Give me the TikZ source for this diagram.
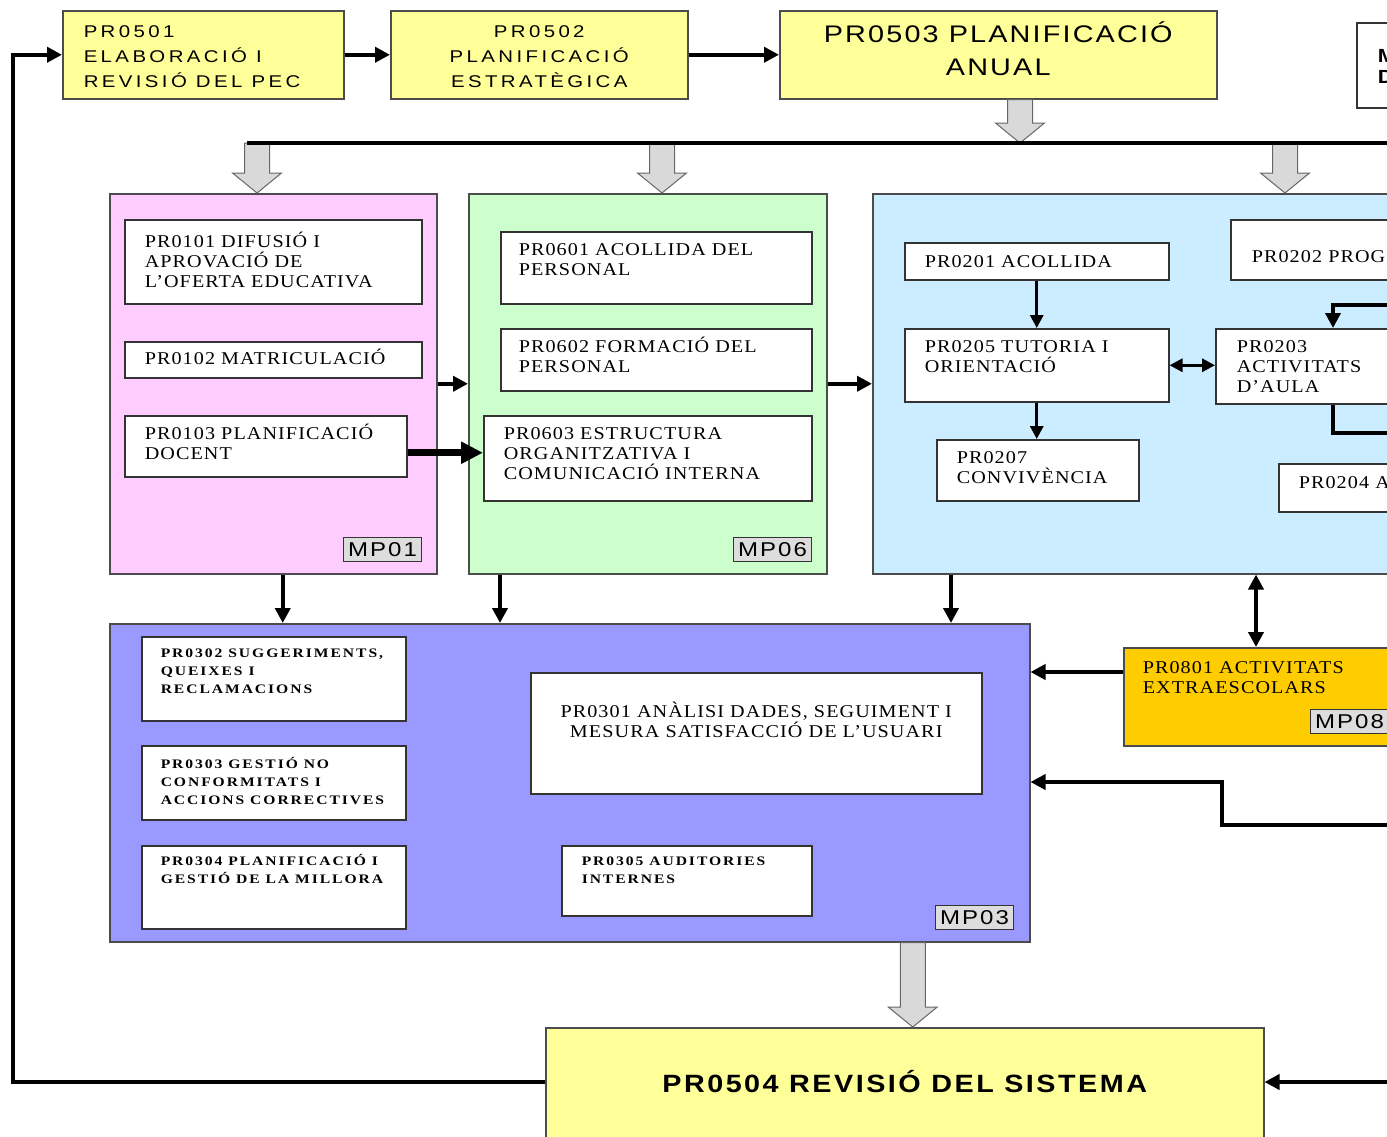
\documentclass[tikz,border=0pt]{standalone}
\usepackage{fontspec}
\setmainfont{Liberation Serif}
\newfontfamily\prfont{Liberation Serif}[FakeStretch=1.12,LetterSpace=6]
\newfontfamily\mpfont{Liberation Serif}[FakeStretch=1.2,LetterSpace=15]
\newfontfamily\topfont{Liberation Sans}[FakeStretch=1.2,LetterSpace=20]
\newfontfamily\anualfont{Liberation Sans}[FakeStretch=1.2,LetterSpace=9]
\newfontfamily\sysfont{Liberation Sans}[FakeStretch=1.15,LetterSpace=10]
\newfontfamily\labfont{Liberation Sans}[FakeStretch=1.2,LetterSpace=10]
\usepackage{tikz}
\usetikzlibrary{arrows.meta}
\usetikzlibrary{calc}
\definecolor{pryellow}{HTML}{FFFF99}
\definecolor{mppink}{HTML}{FFCCFF}
\definecolor{mpgreen}{HTML}{CCFFCC}
\definecolor{mpblue}{HTML}{CCECFF}
\definecolor{mppurple}{HTML}{9999FF}
\definecolor{mporange}{HTML}{FFCC00}
\definecolor{labgray}{HTML}{DDDDDD}
\definecolor{arrgray}{HTML}{D9D9D9}
%% box text: width, height, left indent, top gap, text
\newcommand{\boxtext}[5]{\parbox[c][#2pt][t]{#1pt}{\vspace*{#4pt}\leftskip=#3pt\relax\rule{0pt}{1em}#5\par}}
%% centred box text: width, height, top gap, text
\newcommand{\boxtextc}[4]{\parbox[c][#2pt][t]{#1pt}{\vspace*{#3pt}\centering\rule{0pt}{1em}#4\par}}
%% grey block arrow from (#1) straight down to the height of (#2)
\newcommand{\blockarrow}[2]{%
  \filldraw[blockarr] let \p1=(#1), \p2=(#2) in
    (\x1-12.5pt,\y1) -- (\x1+12.5pt,\y1) -- (\x1+12.5pt,\y2+20pt)
    -- (\x1+24.5pt,\y2+20pt) -- (\x1,\y2) -- (\x1-24.5pt,\y2+20pt)
    -- (\x1-12.5pt,\y2+20pt) -- cycle;}
\tikzset{
%%%%%%%%%% Node styles
area/.style={draw=black!70, line width=1.5pt, anchor=north west, inner sep=0pt},
topbox/.style={area, fill=pryellow, font=\topfont\fontsize{17}{25}\selectfont},
prbox/.style={draw=black!80, fill=white, line width=1.5pt, anchor=north west,
              inner sep=0pt, font=\prfont\fontsize{18}{20}\selectfont},
subbox/.style={prbox, font=\mpfont\bfseries\fontsize{13}{18}\selectfont},
mplabel/.style={draw=black!80, fill=labgray, line width=1pt, anchor=north west,
                inner sep=0pt, minimum width=78pt, minimum height=24pt,
                font=\labfont\fontsize{20}{20}\selectfont},
%%%%%%%%%% Line styles
wire/.style={line width=4pt},
conn/.style={line width=4pt, -{Triangle[length=15pt,width=15pt]}},
biconn/.style={line width=4pt, {Triangle[length=15pt,width=15pt]}-{Triangle[length=15pt,width=15pt]}},
thinconn/.style={line width=3pt, -{Triangle[length=13pt,width=13pt]}},
thinbiconn/.style={line width=3pt, {Triangle[length=13pt,width=13pt]}-{Triangle[length=13pt,width=13pt]}},
bigconn/.style={line width=7pt, -{Triangle[length=22pt,width=21pt]}},
blockarr/.style={fill=arrgray, draw=black!60, line width=1pt}
}
\begin{document}
\begin{tikzpicture}[x=1pt, y=-1pt]
\useasboundingbox (0,0) rectangle (1387,1136);
\clip (0,0) rectangle (1387,1136);
%% top row
\node[topbox] (pr0501) at (62,10) {\boxtext{281}{88}{21}{10}{PR0501\\ELABORACIÓ I\\REVISIÓ DEL PEC}};
\node[topbox] (pr0502) at (390,10) {\boxtextc{297}{88}{10}{PR0502\\PLANIFICACIÓ\\ESTRATÈGICA}};
\node[topbox, font=\anualfont\fontsize{24}{33}\selectfont] (pr0503) at (779,10)
  {\boxtextc{437}{88}{8}{PR0503 PLANIFICACIÓ\\ANUAL}};
\node[prbox, font=\sysfont\bfseries\fontsize{19}{21}\selectfont] (mpd) at (1356,22)
  {\boxtext{120}{85}{21}{21}{M\\D}};
%%%%%%%%%%%%%%%%%%%%%%%%%%%%%%%%%%%%%%%%%%%%%%%%%%%%%%%
%% MP01
\node[area, fill=mppink, minimum width=327pt, minimum height=380pt] (mp01) at (109,193) {};
\node[prbox] (pr0101) at (124,219) {\boxtext{297}{84}{20}{10}{PR0101 DIFUSIÓ I\\APROVACIÓ DE\\L’OFERTA EDUCATIVA}};
\node[prbox] (pr0102) at (124,341) {\boxtext{297}{36}{20}{5}{PR0102 MATRICULACIÓ}};
\node[prbox] (pr0103) at (124,415) {\boxtext{282}{61}{20}{6}{PR0103 PLANIFICACIÓ\\DOCENT}};
\node[mplabel] (lab01) at (343,537) {MP01};
%% MP06
\node[area, fill=mpgreen, minimum width=358pt, minimum height=380pt] (mp06) at (468,193) {};
\node[prbox] (pr0601) at (500,231) {\boxtext{311}{72}{18}{6}{PR0601 ACOLLIDA DEL\\PERSONAL}};
\node[prbox] (pr0602) at (500,328) {\boxtext{311}{62}{18}{6}{PR0602 FORMACIÓ DEL\\PERSONAL}};
\node[prbox] (pr0603) at (483,415) {\boxtext{328}{85}{20}{6}{PR0603 ESTRUCTURA\\ORGANITZATIVA I\\COMUNICACIÓ INTERNA}};
\node[mplabel] (lab06) at (733,537) {MP06};
%% MP02
\node[area, fill=mpblue, minimum width=600pt, minimum height=380pt] (mp02) at (872,193) {};
\node[prbox] (pr0201) at (904,242) {\boxtext{264}{37}{20}{7}{PR0201 ACOLLIDA}};
\node[prbox] (pr0205) at (904,328) {\boxtext{264}{73}{20}{6}{PR0205 TUTORIA I\\ORIENTACIÓ}};
\node[prbox] (pr0207) at (936,439) {\boxtext{202}{61}{20}{6}{PR0207\\CONVIVÈNCIA}};
\node[prbox] (pr0202) at (1230,219) {\boxtext{300}{60}{21}{25}{PR0202 PROGRAMACIÓ}};
\node[prbox] (pr0203) at (1215,328) {\boxtext{300}{75}{21}{6}{PR0203\\ACTIVITATS\\D’AULA}};
\node[prbox] (pr0204) at (1278,463) {\boxtext{400}{48}{20}{7}{PR0204 AVALUACIÓ}};
%% MP08
\node[area, fill=mporange, font=\prfont\fontsize{18}{20}\selectfont] (mp08) at (1123,647)
  {\boxtext{400}{98}{19}{8}{PR0801 ACTIVITATS\\EXTRAESCOLARS}};
\node[mplabel] (lab08) at (1310,709) {MP08};
%% MP03
\node[area, fill=mppurple, minimum width=920pt, minimum height=318pt] (mp03) at (109,623) {};
\node[subbox] (pr0302) at (141,636) {\boxtext{264}{84}{19}{8}{PR0302 SUGGERIMENTS,\\QUEIXES I\\RECLAMACIONS}};
\node[subbox] (pr0303) at (141,745) {\boxtext{264}{74}{19}{10}{PR0303 GESTIÓ NO\\CONFORMITATS I\\ACCIONS CORRECTIVES}};
\node[subbox] (pr0304) at (141,845) {\boxtext{264}{83}{19}{7}{PR0304 PLANIFICACIÓ I\\GESTIÓ DE LA MILLORA}};
\node[prbox] (pr0301) at (530,672) {\boxtextc{451}{121}{27}{PR0301 ANÀLISI DADES, SEGUIMENT I\\MESURA SATISFACCIÓ DE L’USUARI}};
\node[subbox] (pr0305) at (561,845) {\boxtext{250}{70}{20}{7}{PR0305 AUDITORIES\\INTERNES}};
\node[mplabel] (lab03) at (935,905) {MP03};
%% PR0504
\node[area, fill=pryellow, font=\sysfont\bfseries\fontsize{25}{30}\selectfont] (pr0504) at (545,1027)
  {\boxtextc{718}{150}{40}{PR0504 REVISIÓ DEL SISTEMA}};
%%%%%%%%%%%%%%%%%%%%%%%%%%%%%%%%%%%%%%%%%%%%%%%%%%%%%%%
%% points on the lines
\coordinate (busL) at (247,143);
\coordinate (busR) at (1400,143);
\coordinate (bus0) at (1020,143);
\coordinate (bus1) at (257,143);
\coordinate (bus2) at (662,143);
\coordinate (bus3) at (1285,143);
\coordinate (revtop) at ([xshift=8pt]pr0504.north);
\coordinate (fb) at (13,1082);
\coordinate (ret2) at (1400,1082);
\coordinate (retr) at (1400,825);
\coordinate (retm) at (1222,782);
\coordinate (loopa) at (1400,305);
\coordinate (loopb) at (1400,433);
\coordinate (t0203) at ([xshift=118pt]pr0203.north west);
\coordinate (b0203) at ([xshift=118pt]pr0203.south west);
\coordinate (x08) at ([yshift=-25pt]mp08.north west);
\coordinate (d01) at ([xshift=9.5pt]mp01.south);
\coordinate (d06) at ([xshift=32pt]mp06.south west);
\coordinate (d02) at ([xshift=79pt]mp02.south west);
\coordinate (d08) at ([xshift=133pt]mp08.north west);
\coordinate (a0103) at ([yshift=-6.5pt]pr0103.east);
%% grey block arrows
\blockarrow{pr0503.south -| bus0}{bus0}
\blockarrow{bus1}{mp01.north}
\blockarrow{bus2}{mp06.north}
\blockarrow{bus3}{mp02.north}
\blockarrow{mp03.south -| revtop}{revtop}
\draw[wire] (busL) -- (busR);
%% top row arrows
\draw[conn] (pr0501.east) -- (pr0502.west);
\draw[conn] (pr0502.east) -- (pr0503.west);
\draw[conn] (fb -| pr0504.west) -- (fb) |- (pr0501.west);
\draw[conn] (ret2) -- (ret2 -| pr0504.east);
%% between the areas
\draw[conn] (mp01.east) -- (mp06.west);
\draw[conn] (mp06.east) -- (mp02.west);
\draw[bigconn] (a0103) -- (a0103 -| pr0603.west);
\draw[conn] (d01) -- (d01 |- mp03.north);
\draw[conn] (d06) -- (d06 |- mp03.north);
\draw[conn] (d02) -- (d02 |- mp03.north);
\draw[biconn] (d08) -- (d08 |- mp02.south);
\draw[conn] (x08) -- (x08 -| mp03.east);
\draw[conn] (retr) -| (retm) -- (retm -| mp03.east);
%% inside MP02
\draw[thinconn] (pr0201.south) -- (pr0201.south |- pr0205.north);
\draw[thinconn] (pr0205.south) -- (pr0205.south |- pr0207.north);
\draw[thinbiconn] (pr0205.east) -- (pr0205.east -| pr0203.west);
\draw[conn] (loopa) -| (t0203);
\draw[wire] (b0203) |- (loopb);
\end{tikzpicture}
\end{document}
